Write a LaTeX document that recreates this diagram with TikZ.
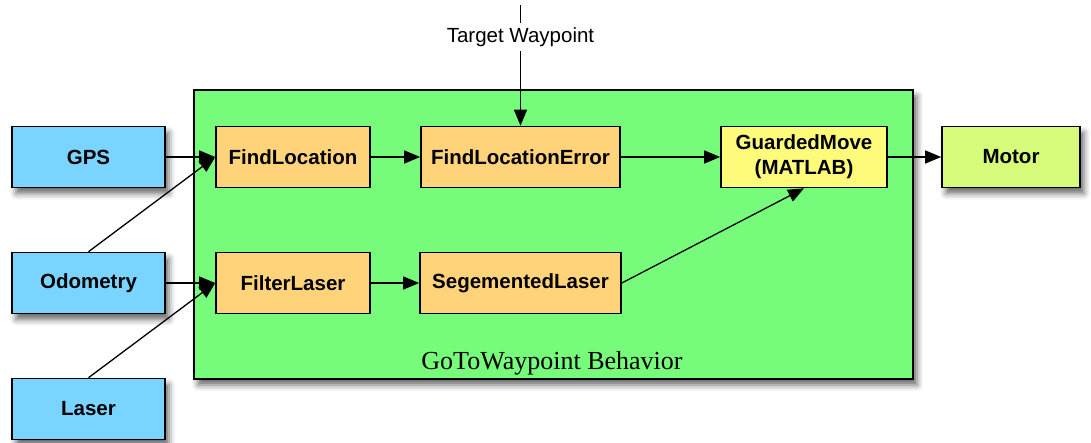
\documentclass[tikz,border=0pt]{standalone}
\usepackage{fontspec}
\setmainfont{Liberation Sans}
\newfontfamily\labelserif{Liberation Serif}
\usetikzlibrary{arrows.meta,shadows.blur}

\definecolor{inputblue}{HTML}{79D5FF}
\definecolor{stageorange}{HTML}{FFD379}
\definecolor{moveyellow}{HTML}{FFFB7A}
\definecolor{behaviorgreen}{HTML}{77FB7A}
\definecolor{motorlime}{HTML}{D6FB7B}

\tikzset{
  boxshadow/.style={blur shadow={shadow xshift=4pt, shadow yshift=-6pt,
                    shadow blur radius=6pt, shadow opacity=60}},
  block/.style={draw=black, line width=1.6pt, minimum height=61pt,
                font=\fontsize{20.5}{25}\selectfont\bfseries, align=center,
                inner sep=2pt},
  inblock/.style={block, fill=inputblue, minimum width=153pt, boxshadow},
  stage/.style={block, fill=stageorange},
  flow/.style={draw=black, line width=1.3pt,
               -{Triangle[length=16pt,width=13pt]}},
}

\begin{document}
\begin{tikzpicture}[x=1pt, y=-1pt]
\useasboundingbox (0,0) rectangle (1091,442);

% behavior container
\node[draw=black, line width=1.6pt, fill=behaviorgreen, boxshadow,
      minimum width=719pt, minimum height=289pt, inner sep=0pt]
      (behavior) at (553.5,234.5) {};
\node[font=\labelserif\fontsize{26}{28}\selectfont] (behaviorname)
      at (552,363) {GoToWaypoint Behavior};

% sensor inputs
\node[inblock] (gps)   at (88.5,157) {GPS};
\node[inblock] (odom)  at (88.5,283) {Odometry};
\node[inblock] (laser) at (88.5,409) {Laser};

% processing stages
\node[stage, minimum width=154pt] (findloc) at (293,157) {FindLocation};
\node[stage, minimum width=154pt] (filter)  at (293,283) {FilterLaser};
\node[stage, minimum width=199pt] (locerr)  at (520.5,157) {FindLocationError};
\node[stage, minimum width=201pt] (seglaser) at (520.5,283) {SegementedLaser};
\node[block, fill=moveyellow, minimum width=166pt] (guard) at (804,157)
      {GuardedMove\\(MATLAB)};

% actuator
\node[block, fill=motorlime, minimum width=138pt, boxshadow] (motor)
      at (1011,157) {Motor};

% target waypoint input
\coordinate (targettop) at (520.5,5);
\node[font=\fontsize{20.5}{22}\selectfont, inner sep=0pt, minimum height=28pt]
      (target) at (520.5,37) {Target Waypoint};
\draw[line width=1.3pt] (targettop) -- (target.north);
\draw[flow] (target.south) -- (locerr.north);

% connections
\draw[flow] (gps.east) -- (findloc.west);
\draw[flow] (odom.north) -- (findloc.west);
\draw[flow] (odom.east) -- (filter.west);
\draw[flow] (laser.north) -- (filter.west);
\draw[flow] (findloc) -- (locerr);
\draw[flow] (filter) -- (seglaser);
\draw[flow] (locerr) -- (guard);
\draw[flow] (seglaser.east) -- (guard.south);
\draw[flow] (guard) -- (motor);
\end{tikzpicture}
\end{document}
